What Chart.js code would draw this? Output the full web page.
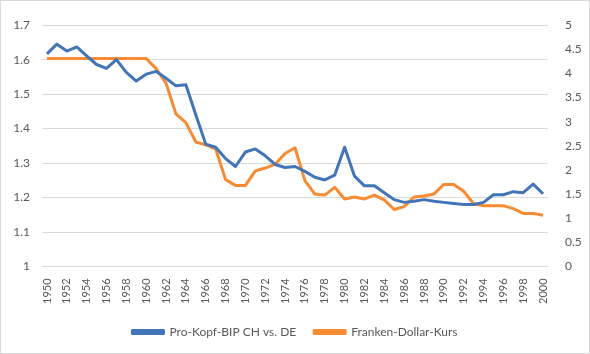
<!DOCTYPE html>
<html>
<head>
<meta charset="utf-8">
<script src="https://cdn.jsdelivr.net/npm/chart.js@4/dist/chart.umd.min.js"></script>
<style>
html,body{margin:0;padding:0;background:#fff;}
#wrap{position:absolute;left:0;top:0;width:588px;height:352px;border:1px solid #d9d9d9;}
canvas{display:block;}
</style>
</head>
<body>
<div id="wrap"><canvas id="c" width="588" height="352"></canvas></div>
<script>
const years = [];
for (let y = 1950; y <= 2000; y++) years.push(String(y));

const bipRatio = [1.617,1.645,1.625,1.637,1.611,1.586,1.575,1.600,1.563,1.538,
  1.558,1.566,1.546,1.524,1.527,1.440,1.355,1.346,1.313,1.290,
  1.332,1.341,1.321,1.296,1.287,1.290,1.276,1.259,1.251,1.265,
  1.346,1.262,1.234,1.234,1.214,1.194,1.186,1.189,1.194,1.189,
  1.186,1.183,1.180,1.180,1.186,1.208,1.208,1.217,1.214,1.239,1.211];

const chfUsd = [4.31,4.31,4.31,4.31,4.31,4.31,4.31,4.31,4.31,4.31,
  4.31,4.10,3.80,3.16,2.98,2.58,2.52,2.44,1.80,1.68,
  1.68,1.98,2.04,2.12,2.34,2.46,1.78,1.50,1.48,1.64,
  1.40,1.44,1.40,1.48,1.38,1.18,1.24,1.44,1.46,1.50,
  1.70,1.70,1.56,1.30,1.26,1.26,1.26,1.20,1.10,1.10,1.06];

const seriesNames = ['Pro-Kopf-BIP CH vs. DE', 'Franken-Dollar-Kurs'];

const txt = '#595959';
const fontFam = 'Lato, "Open Sans", sans-serif';

new Chart(document.getElementById('c'), {
  type: 'line',
  data: {
    labels: years,
    datasets: [
      {label: seriesNames[0], data: bipRatio, yAxisID: 'y', borderColor: '#4175b8', backgroundColor: '#4175b8',
       borderWidth: 3, pointRadius: 0, tension: 0, borderJoinStyle: 'round'},
      {label: seriesNames[1], data: chfUsd, yAxisID: 'y1', borderColor: '#f68b33', backgroundColor: '#f68b33',
       borderWidth: 3, pointRadius: 0, tension: 0, borderJoinStyle: 'round'}
    ]
  },
  options: {
    responsive: false,
    animation: false,
    layout: {padding: {left: 0, right: 0, top: 4, bottom: 5}},
    plugins: {
      tooltip: {enabled: false},
      legend: {
        position: 'bottom',
        labels: {
          color: txt, font: {family: fontFam, size: 12},
          boxWidth: 31, boxHeight: 3, padding: 18
        }
      }
    },
    scales: {
      x: {
        offset: true,
        grid: {display: false},
        border: {display: false},
        ticks: {
          color: txt, font: {family: fontFam, size: 11},
          autoSkip: false, maxRotation: 90, minRotation: 90, padding: 4,
          callback: function(v, i) { return i % 2 === 0 ? this.getLabelForValue(v) : ''; }
        }
      },
      y: {
        position: 'left', min: 1, max: 1.7,
        afterFit: s => { s.width = 41; },
        ticks: {stepSize: 0.1, color: txt, font: {family: fontFam, size: 12}, padding: 12,
          callback: v => Math.round(v*10)/10 === 1 ? '1' : (Math.round(v*10)/10).toFixed(1)},
        grid: {color: '#d9d9d9', lineWidth: 1, drawTicks: false},
        border: {display: false}
      },
      y1: {
        position: 'right', min: 0, max: 5,
        afterFit: s => { s.width = 41; },
        ticks: {stepSize: 0.5, color: txt, font: {family: fontFam, size: 12}, padding: 17,
          callback: v => String(Math.round(v*10)/10)},
        grid: {drawOnChartArea: false, drawTicks: false},
        border: {display: false}
      }
    }
  }
});
</script>
</body>
</html>
